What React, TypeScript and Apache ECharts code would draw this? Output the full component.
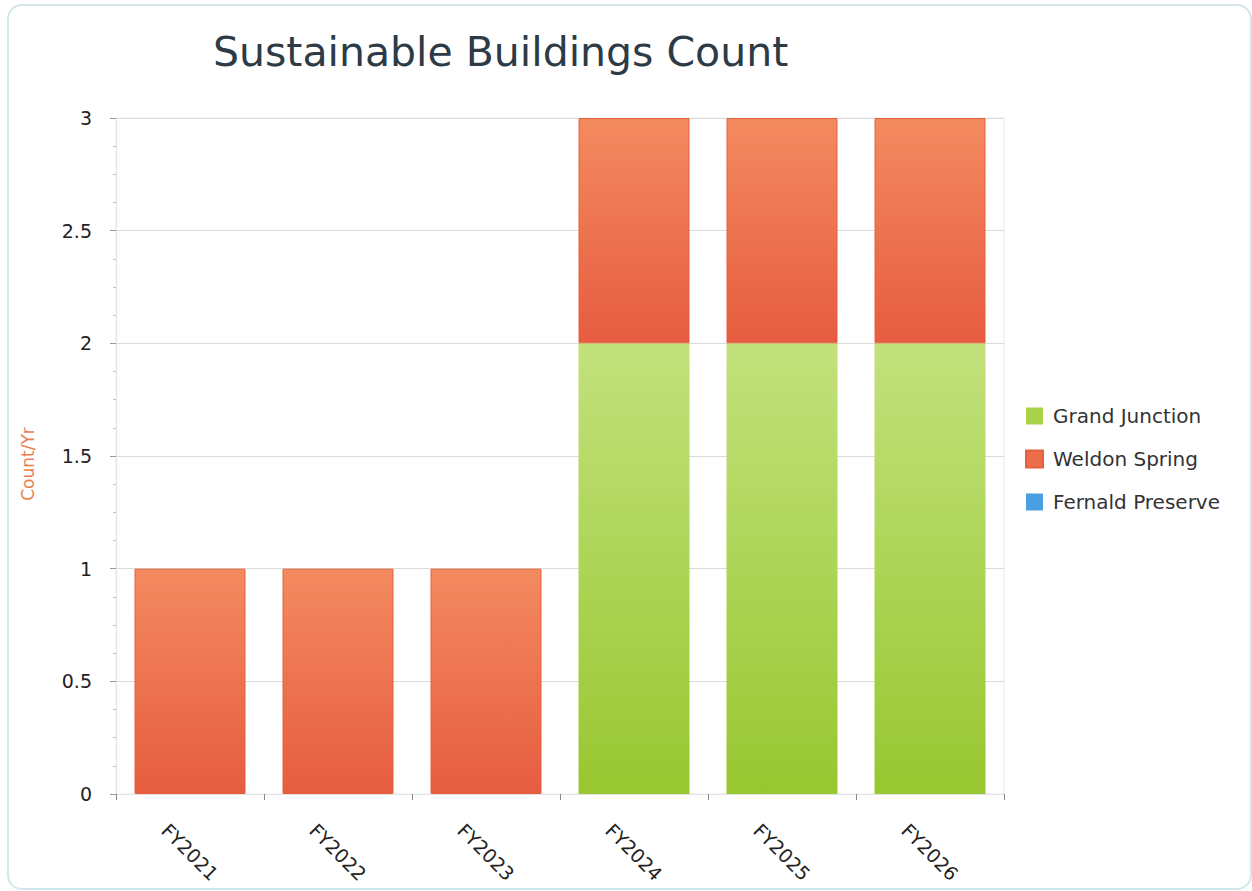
import React, { useEffect, useRef } from "react";
import * as echarts from "echarts";

const categories = ["FY2021", "FY2022", "FY2023", "FY2024", "FY2025", "FY2026"];
const grandJunction = [0, 0, 0, 2, 2, 2];
const weldonSpring = [1, 1, 1, 1, 1, 1];
const fernaldPreserve = [0, 0, 0, 0, 0, 0];
const seriesNames = ["Grand Junction", "Weldon Spring", "Fernald Preserve"];

const grad = (top: string, bottom: string) =>
  new echarts.graphic.LinearGradient(0, 0, 0, 1, [
    { offset: 0, color: top },
    { offset: 1, color: bottom },
  ]);

export default function App() {
  const ref = useRef<HTMLDivElement>(null);
  useEffect(() => {
    if (!ref.current) return;
    const chart = echarts.init(ref.current, undefined, { renderer: "svg" });
    const font = "DejaVu Sans, Verdana, sans-serif";
    chart.setOption({
      animation: false,
      backgroundColor: "#ffffff",
      textStyle: { fontFamily: font },
      graphic: [
        {
          type: "rect",
          shape: { x: 8, y: 5, width: 1243, height: 884, r: 14 },
          style: { fill: "none", stroke: "#d3e7eb", lineWidth: 2 },
          silent: true,
        },
      ],
      title: {
        text: "Sustainable Buildings Count",
        left: 208,
        top: 26,
        textStyle: { fontFamily: font, fontSize: 41, fontWeight: "normal", color: "#2d3b46" },
      },
      legend: {
        orient: "vertical",
        left: 1025,
        top: 406,
        padding: 0,
        itemWidth: 17,
        itemHeight: 17,
        itemGap: 23,
        icon: "rect",
        textStyle: { fontFamily: font, fontSize: 20, color: "#333", padding: [0, 0, 0, 5] },
        data: [
          { name: seriesNames[0], itemStyle: { color: "#a8d24a" } },
          { name: seriesNames[1], itemStyle: { color: "#ec6c4c" } },
          { name: seriesNames[2], itemStyle: { color: "#4a9fe0" } },
        ],
      },
      grid: {
        left: 116,
        top: 118,
        right: 248,
        bottom: 97,
        show: true,
        borderColor: "#ececec",
        borderWidth: 1,
      },
      xAxis: {
        type: "category",
        data: categories,
        axisLine: { show: true, lineStyle: { color: "#e3e3e3" } },
        axisTick: { show: true, length: 6, lineStyle: { color: "#888" } },
        axisLabel: {
          rotate: -45,
          align: "center",
          verticalAlign: "middle",
          margin: 58,
          fontSize: 19,
          color: "#222",
          fontFamily: font,
        },
      },
      yAxis: {
        type: "value",
        min: 0,
        max: 3,
        interval: 0.5,
        name: "Count/Yr",
        nameLocation: "middle",
        nameGap: 80,
        nameRotate: 90,
        nameTextStyle: { color: "#ea7f4f", fontSize: 17, fontFamily: font, padding: [0, 16, 0, 0] },
        axisLine: { show: true, lineStyle: { color: "#e3e3e3" } },
        axisTick: { show: true, length: 6, lineStyle: { color: "#999" } },
        minorTick: { show: true, splitNumber: 4, length: 3, lineStyle: { color: "#bbb" } },
        splitLine: { show: true, lineStyle: { color: "#dcdcdc" } },
        axisLabel: { margin: 24, fontSize: 19, color: "#222", fontFamily: font },
      },
      series: [
        {
          name: seriesNames[0],
          type: "bar",
          stack: "total",
          barCategoryGap: "25%",
          data: grandJunction,
          itemStyle: { color: grad("#c2e17c", "#98c730"), borderWidth: 0 },
        },
        {
          name: seriesNames[1],
          type: "bar",
          stack: "total",
          barCategoryGap: "25%",
          data: weldonSpring,
          itemStyle: { color: grad("#f48a60", "#e65c40"), borderColor: "#e5603f", borderWidth: 1 },
        },
        {
          name: seriesNames[2],
          type: "bar",
          stack: "total",
          barCategoryGap: "25%",
          data: fernaldPreserve,
          itemStyle: { color: grad("#6cb6ee", "#3a8fd6"), borderWidth: 0 },
        },
      ],
    });
    return () => chart.dispose();
  }, []);
  return (
    <div
      ref={ref}
      style={{ position: "absolute", left: 0, top: 0, width: 1252, height: 891 }}
    />
  );
}
